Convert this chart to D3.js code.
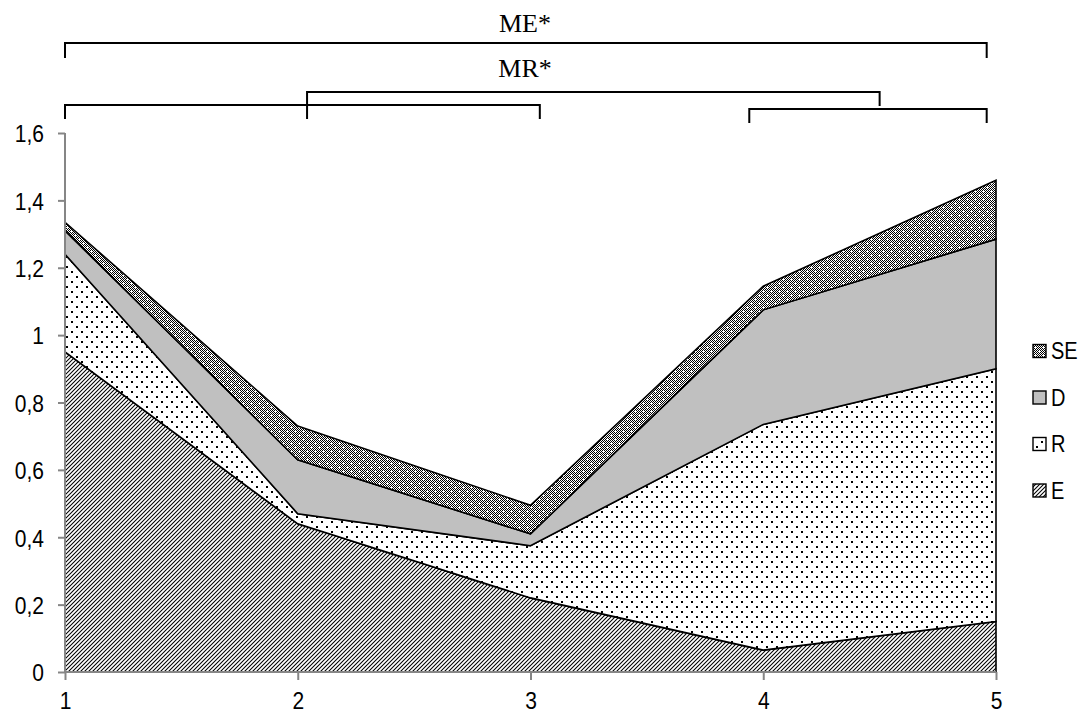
<!DOCTYPE html>
<html><head><meta charset="utf-8">
<script src="https://cdn.jsdelivr.net/npm/d3@7"></script>
<style>html,body{margin:0;padding:0;background:#fff;}svg{display:block;}</style>
</head><body>
<svg id="c" width="1088" height="715"></svg>
<script>
// ---- data ----
const categories = [1, 2, 3, 4, 5];
const seriesNames = ["E", "R", "D", "SE"];
const E  = [0.95, 0.44, 0.22, 0.065, 0.15];
const R  = [0.29, 0.03, 0.155, 0.67, 0.75];
const D  = [0.07, 0.16, 0.035, 0.34, 0.385];
const SE = [0.025, 0.10, 0.085, 0.07, 0.175];
const yTickValues = [0, 0.2, 0.4, 0.6, 0.8, 1, 1.2, 1.4, 1.6];
const yTickLabels = ["0", "0,2", "0,4", "0,6", "0,8", "1", "1,2", "1,4", "1,6"];
const legendOrder = ["SE", "D", "R", "E"];
const annotations = [
  {label: "ME*"},
  {label: "MR*"}
];

// ---- layout ----
const svg = d3.select("#c");
const x = d3.scaleLinear().domain([1, 5]).range([65, 996]);
const y = d3.scaleLinear().domain([0, 1.6]).range([672, 133]);
const SY = 1.16; // vertical stretch of sans text

const rows = categories.map((c, i) => ({cat: c, E: E[i], R: R[i], D: D[i], SE: SE[i]}));
const stacked = d3.stack().keys(seriesNames)(rows);

// ---- patterns ----
const defs = svg.append("defs");
const pE = defs.append("pattern").attr("id", "pE").attr("patternUnits", "userSpaceOnUse")
  .attr("width", 4).attr("height", 4);
pE.append("rect").attr("width", 4).attr("height", 4).attr("fill", "#fff");
pE.append("path").attr("d", "M-1,1 L1,-1 M0,4 L4,0 M3,5 L5,3").attr("stroke", "#000").attr("stroke-width", 1.05);
const pR = defs.append("pattern").attr("id", "pR").attr("patternUnits", "userSpaceOnUse")
  .attr("width", 10).attr("height", 10);
pR.append("rect").attr("width", 10).attr("height", 10).attr("fill", "#fff");
pR.append("rect").attr("x", 1).attr("y", 1).attr("width", 2).attr("height", 2).attr("fill", "#000");
pR.append("rect").attr("x", 6).attr("y", 6).attr("width", 2).attr("height", 2).attr("fill", "#000");
const pD = defs.append("pattern").attr("id", "pD").attr("patternUnits", "userSpaceOnUse")
  .attr("width", 4).attr("height", 4);
pD.append("rect").attr("width", 4).attr("height", 4).attr("fill", "#c0c0c0");
const pS = defs.append("pattern").attr("id", "pS").attr("patternUnits", "userSpaceOnUse")
  .attr("width", 8).attr("height", 8);
pS.append("rect").attr("width", 8).attr("height", 8).attr("fill", "#fff");
for (let i = 0; i < 8; i++) for (let j = 0; j < 8; j++) {
  if ((i + j) % 2 === 0) pS.append("rect").attr("x", i).attr("y", j).attr("width", 1).attr("height", 1).attr("fill", "#000");
}
pS.append("rect").attr("x", 3).attr("y", 2).attr("width", 1).attr("height", 3).attr("fill", "#fff");
pS.append("rect").attr("x", 2).attr("y", 3).attr("width", 3).attr("height", 1).attr("fill", "#fff");
pS.append("rect").attr("x", 7).attr("y", 6).attr("width", 1).attr("height", 3).attr("fill", "#fff");
pS.append("rect").attr("x", 6).attr("y", 7).attr("width", 3).attr("height", 1).attr("fill", "#fff");
pS.append("rect").attr("x", 7).attr("y", -1).attr("width", 1).attr("height", 1).attr("fill", "#fff");
const fills = {E: "url(#pE)", R: "url(#pR)", D: "url(#pD)", SE: "url(#pS)"};

// ---- areas ----
const area = d3.area().x(d => x(d.data.cat)).y0(d => y(d[0])).y1(d => y(d[1]));
svg.append("g").selectAll("path").data(stacked).join("path")
  .attr("d", area)
  .attr("fill", s => fills[s.key])
  .attr("stroke", "#000").attr("stroke-width", 1.6).attr("stroke-linejoin", "miter");

// ---- axes ----
const axisColor = "#868686";
const sans = "'Liberation Sans', Arial, sans-serif";
const yAxis = d3.axisLeft(y).tickValues(yTickValues).tickFormat((d, i) => yTickLabels[i]).tickSize(7).tickPadding(14);
const gy = svg.append("g").attr("transform", "translate(65,0)").call(yAxis);
const xAxis = d3.axisBottom(x).tickValues(categories).tickFormat(d3.format("d")).tickSize(8).tickPadding(14);
const gx = svg.append("g").attr("transform", "translate(0,672)").call(xAxis);
[gy, gx].forEach(g => {
  g.select(".domain").attr("stroke", axisColor).attr("stroke-width", 2);
  g.selectAll(".tick line").attr("stroke", axisColor).attr("stroke-width", 2);
  g.selectAll("text").attr("fill", "#000").attr("font-family", sans).attr("font-size", 21);
});
gy.select(".domain").attr("d", "M0," + y(1.6) + "V" + y(0));
gx.select(".domain").attr("d", "M" + x(1) + ",0H" + x(5));
gy.selectAll(".tick text").attr("dy", "0.36em").attr("transform", `scale(1,${SY})`);
gx.selectAll(".tick text").attr("y", 28 / SY).attr("dy", "0.36em").attr("transform", `scale(1,${SY})`);

// ---- legend ----
const lg = svg.append("g");
legendOrder.forEach((k, i) => {
  const cy = 351 + i * 46.5;
  lg.append("rect").attr("x", 1033).attr("y", cy - 6.5).attr("width", 13).attr("height", 13)
    .attr("fill", fills[k]).attr("stroke", "#000").attr("stroke-width", 1.4);
  lg.append("text").attr("x", 1051).attr("y", cy / SY).attr("dy", "0.36em")
    .attr("transform", `scale(1,${SY})`)
    .attr("font-family", sans).attr("font-size", 20).text(k);
});

// ---- significance brackets ----
const brackets = [
  {x1: 1, x2: 4.96, top: 43, b1: 58, b2: 58},
  {x1: 2.04, x2: 4.5, top: 92, b1: 119, b2: 106},
  {x1: 1, x2: 3.04, top: 105, b1: 119, b2: 119},
  {x1: 3.94, x2: 4.96, top: 109, b1: 123, b2: 123}
];
svg.append("g").selectAll("path").data(brackets).join("path")
  .attr("d", b => `M${x(b.x1)},${b.b1}V${b.top}H${x(b.x2)}V${b.b2}`)
  .attr("fill", "none").attr("stroke", "#000").attr("stroke-width", 2);
svg.append("g").selectAll("text").data(annotations).join("text")
  .attr("x", 525).attr("y", (d, i) => 32 + i * 45)
  .attr("text-anchor", "middle")
  .attr("font-family", "'Liberation Serif', 'Times New Roman', serif").attr("font-size", 26)
  .text(d => d.label);
</script>
</body></html>
